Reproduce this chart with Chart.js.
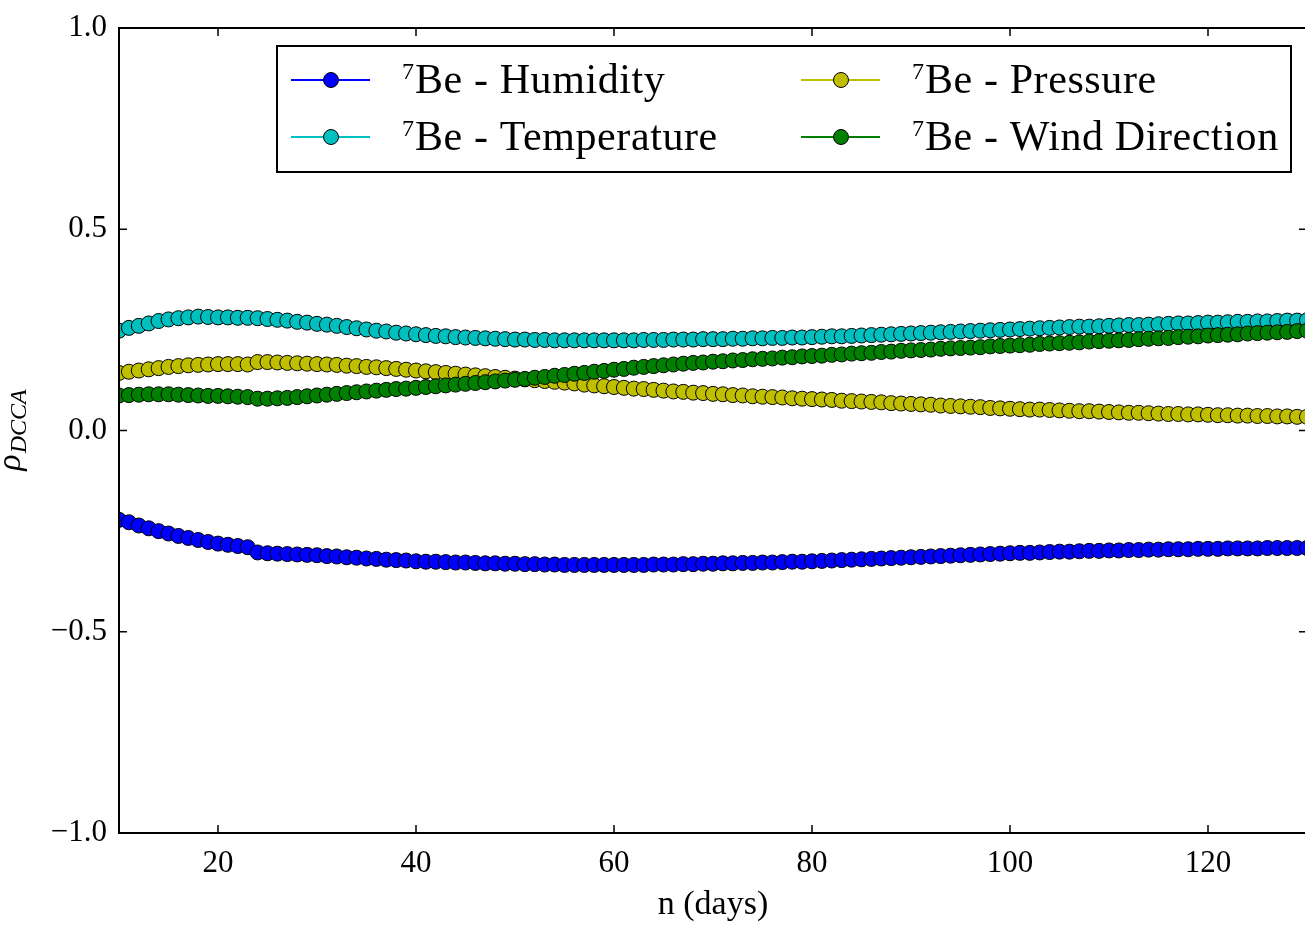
<!DOCTYPE html>
<html>
<head>
<meta charset="utf-8">
<script src="https://cdn.jsdelivr.net/npm/chart.js@4.4.0/dist/chart.umd.min.js"></script>
<style>
  html, body { margin: 0; padding: 0; background: #fff; overflow: hidden; }
  #chart { display: block; }
</style>
</head>
<body>
<canvas id="chart" width="1307" height="925"></canvas>
<script>
// eje x: escala n (dias)
const nDays = [10, 11, 12, 13, 14, 15, 16, 17, 18, 19, 20, 21, 22, 23, 24, 25, 26, 27, 28, 29,
  30, 31, 32, 33, 34, 35, 36, 37, 38, 39, 40, 41, 42, 43, 44, 45, 46, 47, 48, 49,
  50, 51, 52, 53, 54, 55, 56, 57, 58, 59, 60, 61, 62, 63, 64, 65, 66, 67, 68, 69,
  70, 71, 72, 73, 74, 75, 76, 77, 78, 79, 80, 81, 82, 83, 84, 85, 86, 87, 88, 89,
  90, 91, 92, 93, 94, 95, 96, 97, 98, 99, 100, 101, 102, 103, 104, 105, 106, 107, 108, 109,
  110, 111, 112, 113, 114, 115, 116, 117, 118, 119, 120, 121, 122, 123, 124, 125, 126, 127, 128, 129, 130];

// rho_DCCA por serie
const humidity = [-0.222, -0.228, -0.236, -0.243, -0.250, -0.256, -0.262, -0.267, -0.272, -0.277,
  -0.281, -0.284, -0.287, -0.290, -0.303, -0.305, -0.306, -0.307, -0.308, -0.309,
  -0.310, -0.312, -0.313, -0.315, -0.316, -0.318, -0.319, -0.321, -0.322, -0.323,
  -0.325, -0.326, -0.326, -0.327, -0.328, -0.328, -0.329, -0.330, -0.330, -0.331,
  -0.331, -0.332, -0.332, -0.333, -0.333, -0.334, -0.334, -0.334, -0.334, -0.334,
  -0.334, -0.334, -0.334, -0.334, -0.333, -0.333, -0.333, -0.332, -0.332, -0.331,
  -0.331, -0.330, -0.330, -0.329, -0.329, -0.328, -0.328, -0.327, -0.326, -0.326,
  -0.325, -0.324, -0.323, -0.322, -0.321, -0.320, -0.319, -0.318, -0.317, -0.316,
  -0.315, -0.314, -0.313, -0.312, -0.311, -0.310, -0.309, -0.308, -0.307, -0.306,
  -0.305, -0.304, -0.304, -0.303, -0.302, -0.301, -0.301, -0.300, -0.299, -0.299,
  -0.298, -0.298, -0.297, -0.297, -0.296, -0.296, -0.295, -0.295, -0.295, -0.294,
  -0.294, -0.294, -0.293, -0.293, -0.293, -0.293, -0.292, -0.292, -0.292, -0.292, -0.292];

const temperature = [0.248, 0.255, 0.260, 0.266, 0.272, 0.276, 0.279, 0.281, 0.283, 0.282,
  0.281, 0.281, 0.280, 0.280, 0.279, 0.277, 0.275, 0.273, 0.270, 0.268,
  0.265, 0.263, 0.260, 0.257, 0.254, 0.251, 0.248, 0.246, 0.243, 0.241,
  0.239, 0.237, 0.235, 0.234, 0.232, 0.231, 0.230, 0.229, 0.228, 0.227,
  0.226, 0.226, 0.225, 0.225, 0.224, 0.224, 0.224, 0.224, 0.224, 0.224,
  0.224, 0.224, 0.224, 0.225, 0.225, 0.225, 0.226, 0.226, 0.226, 0.227,
  0.227, 0.227, 0.228, 0.228, 0.229, 0.229, 0.230, 0.230, 0.231, 0.231,
  0.232, 0.233, 0.234, 0.234, 0.235, 0.236, 0.237, 0.238, 0.239, 0.240,
  0.241, 0.242, 0.243, 0.244, 0.245, 0.246, 0.247, 0.248, 0.249, 0.250,
  0.251, 0.252, 0.253, 0.254, 0.255, 0.256, 0.257, 0.258, 0.258, 0.259,
  0.260, 0.261, 0.262, 0.262, 0.263, 0.264, 0.265, 0.266, 0.266, 0.267,
  0.268, 0.268, 0.269, 0.270, 0.270, 0.271, 0.271, 0.272, 0.273, 0.273, 0.274];

const pressure = [0.143, 0.146, 0.149, 0.152, 0.155, 0.158, 0.160, 0.162, 0.163, 0.164,
  0.165, 0.165, 0.165, 0.164, 0.170, 0.170, 0.169, 0.168, 0.167, 0.166,
  0.165, 0.164, 0.163, 0.161, 0.160, 0.158, 0.157, 0.155, 0.153, 0.151,
  0.149, 0.147, 0.145, 0.143, 0.141, 0.139, 0.137, 0.135, 0.133, 0.131,
  0.129, 0.127, 0.125, 0.123, 0.121, 0.119, 0.117, 0.114, 0.112, 0.110,
  0.108, 0.106, 0.104, 0.103, 0.101, 0.099, 0.097, 0.096, 0.094, 0.093,
  0.091, 0.090, 0.088, 0.087, 0.085, 0.084, 0.083, 0.082, 0.080, 0.079,
  0.078, 0.077, 0.076, 0.074, 0.073, 0.072, 0.071, 0.070, 0.068, 0.067,
  0.066, 0.065, 0.064, 0.062, 0.061, 0.060, 0.059, 0.058, 0.056, 0.055,
  0.054, 0.053, 0.052, 0.052, 0.051, 0.050, 0.049, 0.048, 0.048, 0.047,
  0.046, 0.045, 0.044, 0.044, 0.043, 0.042, 0.041, 0.041, 0.040, 0.040,
  0.039, 0.038, 0.038, 0.037, 0.037, 0.036, 0.036, 0.035, 0.035, 0.034, 0.034];

const windDirection = [0.087, 0.088, 0.089, 0.090, 0.090, 0.090, 0.089, 0.088, 0.087, 0.086,
  0.086, 0.085, 0.084, 0.083, 0.079, 0.079, 0.080, 0.081, 0.083, 0.085,
  0.087, 0.089, 0.091, 0.093, 0.095, 0.097, 0.099, 0.101, 0.103, 0.104,
  0.106, 0.108, 0.110, 0.112, 0.114, 0.116, 0.118, 0.120, 0.122, 0.124,
  0.126, 0.128, 0.131, 0.133, 0.136, 0.138, 0.141, 0.143, 0.146, 0.148,
  0.151, 0.153, 0.156, 0.158, 0.160, 0.162, 0.164, 0.166, 0.168, 0.169,
  0.171, 0.172, 0.174, 0.175, 0.177, 0.178, 0.179, 0.181, 0.182, 0.184,
  0.185, 0.186, 0.188, 0.189, 0.191, 0.192, 0.193, 0.195, 0.196, 0.198,
  0.199, 0.200, 0.201, 0.203, 0.204, 0.205, 0.206, 0.207, 0.209, 0.210,
  0.211, 0.212, 0.213, 0.215, 0.216, 0.217, 0.218, 0.219, 0.221, 0.222,
  0.223, 0.224, 0.225, 0.227, 0.228, 0.229, 0.230, 0.232, 0.233, 0.234,
  0.236, 0.237, 0.238, 0.239, 0.241, 0.242, 0.243, 0.244, 0.245, 0.247, 0.248];

// etiquetas de los ejes
const xTicks = [20, 40, 60, 80, 100, 120];
const yTicks = [-1.0, -0.5, 0.0, 0.5, 1.0];

const seriesNames = ['Be - Humidity', 'Be - Temperature', 'Be - Pressure', 'Be - Wind Direction'];
const seriesColors = ['#0000ff', '#00bfbf', '#bfbf00', '#008000'];
const seriesValues = [humidity, temperature, pressure, windDirection];

const SERIF = '"Liberation Serif", "DejaVu Serif", serif';

// marco, ticks hacia adentro y titulo del eje y
const framePlugin = {
  id: 'frame',
  afterDatasetsDraw(chart) {
    const { ctx, chartArea: a, scales: { x, y } } = chart;
    ctx.save();
    ctx.strokeStyle = '#000';
    ctx.lineWidth = 2;
    ctx.strokeRect(a.left, a.top, a.right - a.left, a.bottom - a.top);
    ctx.lineWidth = 1.5;
    ctx.beginPath();
    xTicks.forEach(v => {
      const px = x.getPixelForValue(v);
      ctx.moveTo(px, a.bottom); ctx.lineTo(px, a.bottom - 8);
      ctx.moveTo(px, a.top); ctx.lineTo(px, a.top + 8);
    });
    yTicks.forEach(v => {
      const py = y.getPixelForValue(v);
      ctx.moveTo(a.left, py); ctx.lineTo(a.left + 8, py);
      ctx.moveTo(a.right, py); ctx.lineTo(a.right - 8, py);
    });
    ctx.stroke();

    // titulo eje y: rho_DCCA rotado
    ctx.translate(20, (a.top + a.bottom) / 2);
    ctx.rotate(-Math.PI / 2);
    ctx.fillStyle = '#000';
    ctx.textBaseline = 'alphabetic';
    const bigFont = 'italic 34px ' + SERIF;
    const subFont = 'italic 24px ' + SERIF;
    ctx.font = bigFont;
    const w1 = ctx.measureText('ρ').width;
    ctx.font = subFont;
    const w2 = ctx.measureText('DCCA').width;
    const start = -(w1 + w2) / 2;
    ctx.font = bigFont;
    ctx.fillText('ρ', start, 0);
    ctx.font = subFont;
    ctx.fillText('DCCA', start + w1 + 1, 6);
    ctx.restore();
  },
  afterDraw(chart) {
    // leyenda propia con superindice 7
    const { ctx } = chart;
    ctx.save();
    ctx.fillStyle = '#fff';
    ctx.fillRect(277, 46, 1014, 126);
    ctx.strokeStyle = '#000';
    ctx.lineWidth = 2;
    ctx.strokeRect(277, 46, 1014, 126);
    const cols = [291, 801];
    const rows = [80, 137];
    const pos = [[0, 0], [0, 1], [1, 0], [1, 1]];
    seriesNames.forEach((name, i) => {
      const lx = cols[pos[i][0]];
      const ly = rows[pos[i][1]];
      ctx.strokeStyle = seriesColors[i];
      ctx.lineWidth = 2;
      ctx.beginPath();
      ctx.moveTo(lx, ly); ctx.lineTo(lx + 79, ly);
      ctx.stroke();
      ctx.beginPath();
      ctx.arc(lx + 40, ly, 7.5, 0, Math.PI * 2);
      ctx.fillStyle = seriesColors[i];
      ctx.fill();
      ctx.strokeStyle = '#000';
      ctx.lineWidth = 1;
      ctx.stroke();
      ctx.fillStyle = '#000';
      ctx.textBaseline = 'alphabetic';
      ctx.font = '24px ' + SERIF;
      ctx.fillText('7', lx + 111, ly - 1);
      ctx.font = '42px ' + SERIF;
      ctx.letterSpacing = '0.6px';
      ctx.fillText(name, lx + 124, ly + 13);
      ctx.letterSpacing = '0px';
    });
    ctx.restore();
  }
};

new Chart(document.getElementById('chart'), {
  type: 'line',
  data: {
    datasets: seriesValues.map((vals, i) => ({
      label: seriesNames[i],
      data: nDays.map((n, k) => ({ x: n, y: vals[k] })),
      borderColor: seriesColors[i],
      backgroundColor: seriesColors[i],
      pointBackgroundColor: seriesColors[i],
      pointBorderColor: '#000',
      pointBorderWidth: 1,
      pointRadius: 7.5,
      borderWidth: 2,
      tension: 0,
      clip: 0,
      order: 4 - i
    }))
  },
  options: {
    responsive: false,
    animation: false,
    layout: { autoPadding: false, padding: { top: 28, left: 0, right: 0, bottom: 0 } },
    plugins: { legend: { display: false }, tooltip: { enabled: false } },
    scales: {
      x: {
        type: 'linear',
        min: 10,
        max: 130,
        grid: { display: false, drawTicks: false },
        border: { display: false },
        afterBuildTicks: s => { s.ticks = xTicks.map(v => ({ value: v })); },
        afterFit: s => { s.height = 92; s.paddingLeft = 0; s.paddingRight = 0; },
        ticks: {
          padding: 12,
          color: '#000',
          font: { family: SERIF, size: 31 },
          callback: v => String(v)
        },
        title: {
          display: true,
          text: 'n (days)',
          color: '#000',
          font: { family: SERIF, size: 34 },
          padding: { top: 0, bottom: 0 }
        }
      },
      y: {
        min: -1,
        max: 1,
        grid: { display: false, drawTicks: false },
        border: { display: false },
        afterBuildTicks: s => { s.ticks = yTicks.map(v => ({ value: v })); },
        afterFit: s => { s.width = 119; s.paddingTop = 0; s.paddingBottom = 0; },
        ticks: {
          padding: 12,
          color: '#000',
          font: { family: SERIF, size: 31 },
          callback: v => v.toFixed(1).replace('-', '\u2212')
        }
      }
    }
  },
  plugins: [framePlugin]
});
</script>
</body>
</html>
